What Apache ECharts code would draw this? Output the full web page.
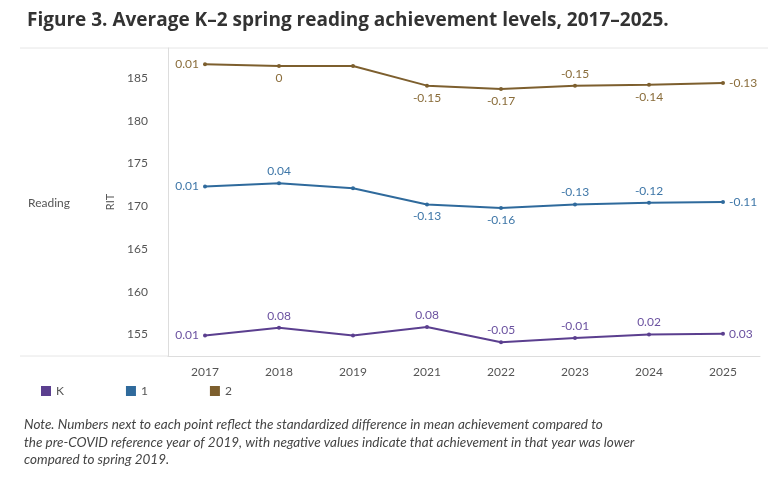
<!DOCTYPE html>
<html>
<head>
<meta charset="utf-8">
<script src="https://cdn.jsdelivr.net/npm/echarts@6/dist/echarts.min.js"></script>
<style>
html, body { margin: 0; padding: 0; background: #fff; }
#main { width: 768px; height: 500px; }
</style>
</head>
<body>
<div id="main"></div>
<script>
var years = ['2017', '2018', '2019', '2021', '2022', '2023', '2024', '2025'];
var gradeK = [154.9, 155.8, 154.9, 155.9, 154.1, 154.6, 155.0, 155.1];
var grade1 = [172.3, 172.7, 172.1, 170.2, 169.8, 170.2, 170.4, 170.5];
var grade2 = [186.6, 186.4, 186.4, 184.1, 183.7, 184.1, 184.2, 184.4];
var diffK = ['0.01', '0.08', '', '0.08', '-0.05', '-0.01', '0.02', '0.03'];
var diff1 = ['0.01', '0.04', '', '-0.13', '-0.16', '-0.13', '-0.12', '-0.11'];
var diff2 = ['0.01', '0', '', '-0.15', '-0.17', '-0.15', '-0.14', '-0.13'];
var posK = ['left', 'top', 'top', 'top', 'top', 'top', 'top', 'right'];
var pos1 = ['left', 'top', 'top', 'bottom', 'bottom', 'top', 'top', 'right'];
var pos2 = ['left', 'bottom', 'top', 'bottom', 'bottom', 'top', 'bottom', 'right'];

var chart = echarts.init(document.getElementById('main'));

function makeSeries(name, values, diffs, pos, color, labelColor) {
    return {
        name: name,
        type: 'line',
        symbol: 'circle',
        symbolSize: 4,
        lineStyle: { color: color, width: 2 },
        itemStyle: { color: color },
        data: values.map(function (v, i) {
            return {
                value: v,
                label: {
                    show: diffs[i] !== '',
                    position: pos[i],
                    distance: 4,
                    formatter: diffs[i],
                    color: labelColor,
                    fontSize: 12,
                    fontFamily: 'Lato'
                }
            };
        })
    };
}

chart.setOption({
    animation: false,
    title: {
        text: 'Figure 3. Average K\u20132 spring reading achievement levels, 2017\u20132025.',
        left: 22, top: 6,
        textStyle: { fontSize: 19, fontWeight: 'bold', color: '#333', fontFamily: 'Open Sans' }
    },
    legend: {
        left: 36, top: 380, itemGap: 62,
        icon: 'rect', itemWidth: 10, itemHeight: 10,
        textStyle: { color: '#555', fontSize: 12, fontFamily: 'Lato' },
        data: ['K', '1', '2']
    },
    grid: { left: 168, right: 8, top: 48, bottom: 144 },
    xAxis: {
        type: 'category',
        data: years,
        axisLine: { lineStyle: { color: '#ddd' } },
        axisTick: { show: false },
        axisLabel: { color: '#555', fontSize: 12, fontFamily: 'Lato', margin: 10 }
    },
    yAxis: {
        type: 'value',
        min: 152.5, max: 188.5,
        name: 'RIT', nameLocation: 'middle', nameGap: 14,
        nameTextStyle: { color: '#555', fontSize: 11, fontFamily: 'Lato' },
        axisLine: { show: true, lineStyle: { color: '#ddd' } },
        axisTick: { show: false },
        splitLine: { show: false },
        axisLabel: {
            customValues: [155, 160, 165, 170, 175, 180, 185],
            color: '#555', fontSize: 12, fontFamily: 'Lato', margin: 20
        }
    },
    graphic: [
        { type: 'text', left: 28, top: 197, style: { text: 'Reading', fill: '#555', fontSize: 12, fontFamily: 'Lato' } },
        { type: 'line', shape: { x1: 20, y1: 48, x2: 768, y2: 48 }, style: { stroke: '#e6e6e6' } },
        { type: 'line', shape: { x1: 20, y1: 356, x2: 168, y2: 356 }, style: { stroke: '#e6e6e6' } },
        { type: 'text', left: 24, top: 416, style: {
            text: 'Note. Numbers next to each point reflect the standardized difference in mean achievement compared to\nthe pre-COVID reference year of 2019, with negative values indicate that achievement in that year was lower\ncompared to spring 2019.',
            fill: '#444', fontSize: 13.5, fontStyle: 'italic', fontFamily: 'Lato', lineHeight: 17.5 } }
    ],
    series: [
        makeSeries('K', gradeK, diffK, posK, '#5b3f8f', '#6b52a0'),
        makeSeries('1', grade1, diff1, pos1, '#2f6a9c', '#3f77a8'),
        makeSeries('2', grade2, diff2, pos2, '#7d5f2e', '#8a6d3b')
    ]
});
</script>
</body>
</html>
